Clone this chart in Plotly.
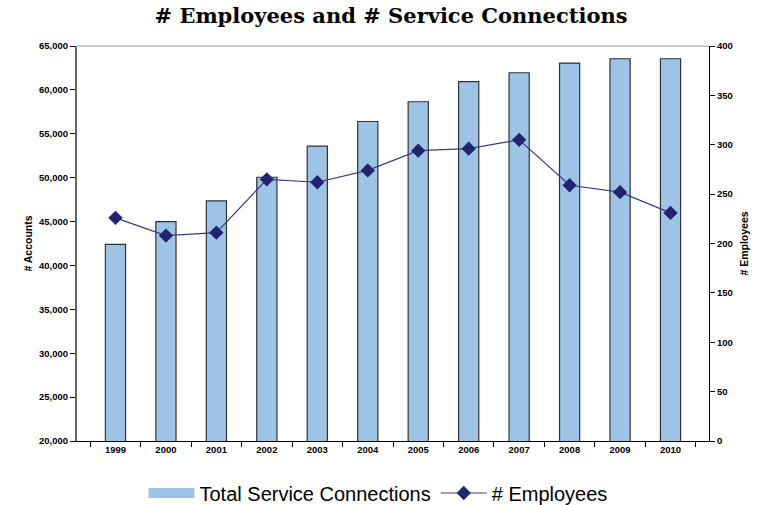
import plotly.graph_objects as go

years = ["1999", "2000", "2001", "2002", "2003", "2004", "2005", "2006", "2007", "2008", "2009", "2010"]
connections = [42400, 45000, 47350, 50050, 53600, 56400, 58650, 60950, 61950, 63050, 63550, 63550]
employees = [226, 208, 211, 265, 262, 274, 294, 296, 305, 259, 252, 231]

BAR_FILL = "#9DC3E6"

fig = go.Figure()
fig.add_trace(go.Bar(
    x=years, y=connections, name="Total Service Connections",
    marker=dict(color=BAR_FILL, line=dict(color="#333333", width=1.2)),
    yaxis="y", showlegend=False, legendgroup="bars",
))
# legend-only swatch for the bars (wide rectangle like the original)
fig.add_trace(go.Scatter(
    x=[None], y=[None], name="Total Service Connections", mode="lines",
    line=dict(color=BAR_FILL, width=13), legendgroup="bars", hoverinfo="skip",
))
fig.add_trace(go.Scatter(
    x=years, y=employees, name="# Employees", mode="lines+markers",
    line=dict(color="#3A3A8C", width=1.2),
    marker=dict(symbol="diamond", size=11, color="#232370"),
    yaxis="y2", legendgroup="emp",
))

tickfont = dict(family="Liberation Sans, Arial", size=9.5, color="#000000", weight="bold")
axtitlefont = dict(family="Liberation Sans, Arial", size=10.5, color="#000000", weight="bold")
fig.update_layout(
    width=761, height=505,
    margin=dict(l=77, r=52, t=46, b=64, autoexpand=False),
    paper_bgcolor="white", plot_bgcolor="white",
    title=dict(text="<b># Employees and # Service Connections</b>",
               font=dict(family="DejaVu Serif", size=21, color="#000000"),
               x=391 / 761, xanchor="center", y=1 - 16 / 505, yanchor="middle"),
    bargap=0.6,
    showlegend=True,
    legend=dict(orientation="h", xref="container", yref="container",
                x=378 / 761, xanchor="center", y=1 - 493 / 505, yanchor="middle",
                font=dict(family="Liberation Sans, Arial", size=20, color="#000000"),
                itemwidth=46, tracegroupgap=16,
                bgcolor="rgba(0,0,0,0)"),
    xaxis=dict(type="category", tickson="boundaries", ticks="outside", ticklen=5,
               tickcolor="#000000", showline=True, linecolor="#000000", linewidth=1,
               tickfont=tickfont, showgrid=False, mirror=False, automargin=False),
    yaxis=dict(range=[20000, 65000], dtick=5000, tickformat=",", ticks="outside", ticklen=5,
               tickcolor="#000000", showline=True, linecolor="#666666", linewidth=2,
               tickfont=tickfont, showgrid=False, zeroline=False, automargin=False,
               title=dict(text="# Accounts", font=axtitlefont, standoff=4)),
    yaxis2=dict(range=[0, 400], dtick=50, overlaying="y", side="right", ticks="outside", ticklen=5,
                tickcolor="#000000", showline=True, linecolor="#000000", linewidth=1,
                tickfont=tickfont, showgrid=False, zeroline=False, automargin=False,
                title=dict(text="# Employees", font=axtitlefont, standoff=8)),
    shapes=[dict(type="line", xref="paper", yref="paper", x0=0, x1=1, y0=1, y1=1,
                 line=dict(color="#999999", width=1))],
)

fig.write_html("out.html", config={"displayModeBar": False},
               post_script="document.body.style.margin='0';")
